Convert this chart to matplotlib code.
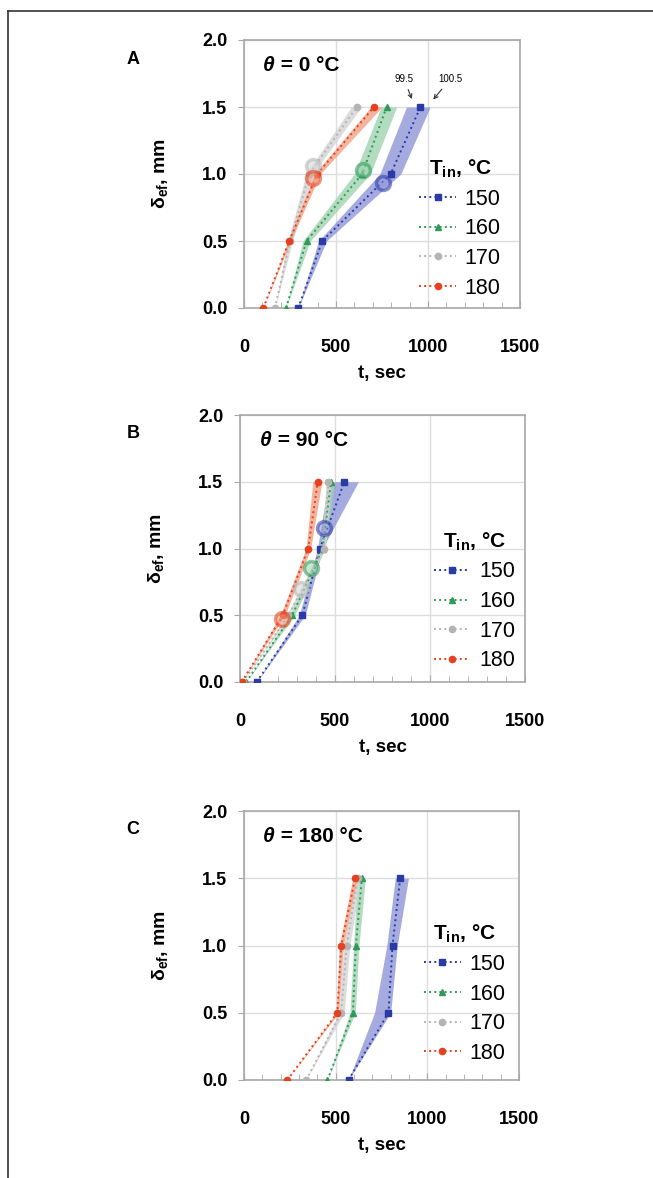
import matplotlib.pyplot as plt
from matplotlib.lines import Line2D
from matplotlib.ticker import MultipleLocator

plt.rcParams['font.family'] = ['Liberation Sans', 'DejaVu Sans']
plt.rcParams['mathtext.fontset'] = 'custom'
plt.rcParams['mathtext.rm'] = 'Liberation Sans'
plt.rcParams['mathtext.bf'] = 'Liberation Sans:bold'
plt.rcParams['mathtext.it'] = 'Liberation Sans:italic'

# depth levels (mm)
depth = [0.0, 0.5, 1.0, 1.5]
t_in = ['150', '160', '170', '180']

# panel A, theta = 0
a_t = {'150': [295, 425, 797, 959], '160': [228, 340, 642, 775],
       '170': [168, 250, 355, 612], '180': [105, 246, 398, 706]}
a_lo = {'150': [295, 405, 738, 883], '160': [228, 320, 600, 745],
        '170': [168, 238, 338, 583], '180': [105, 238, 383, 690]}
a_hi = {'150': [295, 448, 852, 1012], '160': [228, 360, 686, 830],
        '170': [168, 264, 374, 638], '180': [105, 254, 414, 750]}
a_circ_t = {'150': 756, '160': 648, '170': 373, '180': 373}
a_circ_d = {'150': 0.93, '160': 1.03, '170': 1.06, '180': 0.97}

# panel B, theta = 90
b_t = {'150': [88, 328, 421, 549], '160': [32, 275, 435, 479],
       '170': [15, 255, 440, 465], '180': [9, 225, 359, 409]}
b_lo = {'150': [88, 312, 408, 465], '160': [32, 262, 422, 462],
        '170': [15, 246, 430, 453], '180': [9, 213, 348, 383]}
b_hi = {'150': [88, 343, 434, 623], '160': [32, 288, 448, 497],
        '170': [15, 264, 450, 480], '180': [9, 237, 372, 431]}
b_circ_t = {'150': 444, '160': 374, '170': 319, '180': 223}
b_circ_d = {'150': 1.155, '160': 0.855, '170': 0.70, '180': 0.47}

# panel C, theta = 180
c_t = {'150': [570, 788, 810, 852], '160': [455, 594, 610, 643],
       '170': [339, 530, 560, 620], '180': [236, 509, 530, 606]}
c_lo = {'150': [570, 712, 779, 825], '160': [455, 578, 598, 618],
        '170': [339, 518, 543, 608], '180': [236, 503, 520, 593]}
c_hi = {'150': [570, 800, 836, 897], '160': [455, 607, 627, 662],
        '170': [339, 547, 577, 637], '180': [236, 517, 542, 617]}

colors = {'150': '#2b3ba5', '160': '#2f9a58', '170': '#b4b4b4', '180': '#e6401e'}
bands = {'150': '#8f96d8', '160': '#9fd3b0', '170': '#d4d4d4', '180': '#f2a084'}
markers = {'150': 's', '160': '^', '170': 'o', '180': 'o'}

fig = plt.figure(figsize=(6.53, 11.78), dpi=100)
W, H = 653, 1178

# frame (left and top lines)
fig.add_artist(Line2D([8 / W, 8 / W], [0, 1 - 11 / H], color='#333333', lw=1.2))
fig.add_artist(Line2D([8 / W, 1], [1 - 11 / H, 1 - 11 / H], color='#333333', lw=1.2))

panels = [
    ('A', '0', a_t, a_lo, a_hi, a_circ_t, a_circ_d, (244, 40, 520, 308), (0.93, 0.035)),
    ('B', '90', b_t, b_lo, b_hi, b_circ_t, b_circ_d, (240, 415, 525, 682), (0.965, 0.04)),
    ('C', '180', c_t, c_lo, c_hi, None, None, (244, 811, 519, 1080), (0.95, 0.06)),
]

for letter, theta, tt, lo, hi, ct, cd, box, legpos in panels:
    x0, y0, x1, y1 = box
    ax = fig.add_axes([x0 / W, 1 - y1 / H, (x1 - x0) / W, (y1 - y0) / H])
    handles = []
    for k in t_in:
        ax.fill_betweenx(depth, lo[k], hi[k], color=bands[k], alpha=0.8, lw=0, zorder=2)
        h, = ax.plot(tt[k], depth, ls=':', lw=1.4, color=colors[k], marker=markers[k],
                     ms=4.5, mec=colors[k], zorder=3)
        handles.append(h)
        if ct is not None:
            ax.plot(ct[k], cd[k], 'o', ms=10, mfc=bands[k], mec=colors[k], mew=2.5,
                    alpha=0.55, zorder=4)
    ax.set_xlim(0, 1500)
    ax.set_ylim(0, 2.0)
    ax.xaxis.set_major_locator(MultipleLocator(500))
    ax.xaxis.set_minor_locator(MultipleLocator(100))
    ax.set_yticks([0, 0.5, 1.0, 1.5, 2.0])
    ax.set_yticklabels(['0.0', '0.5', '1.0', '1.5', '2.0'])
    ax.grid(True, color='#dddddd', lw=1.0, zorder=0)
    ax.set_axisbelow(True)
    for s in ax.spines.values():
        s.set_color('#a8a8a8')
        s.set_linewidth(1.2)
    ax.tick_params(axis='x', which='major', direction='in', length=5, color='#a8a8a8',
                   pad=22, labelsize=13)
    ax.tick_params(axis='x', which='minor', direction='in', length=4, color='#a8a8a8')
    ax.tick_params(axis='y', direction='out', length=4, color='#a8a8a8', pad=8, labelsize=13)
    for lab in ax.get_xticklabels() + ax.get_yticklabels():
        lab.set_fontweight('bold')
    ax.set_xlabel('t, sec', fontsize=13.5, fontweight='bold')
    ax.xaxis.set_label_coords(0.5, -57 / (y1 - y0))
    ax.set_ylabel(r'$\mathbf{\delta_{ef}}$, mm', fontsize=14, fontweight='bold')
    ax.yaxis.set_label_coords(-74 / (x1 - x0), 0.5)

    fig.text(133 / W, 1 - (y0 + 19) / H, letter, fontsize=13, fontweight='bold',
             ha='center', va='center')

    t1 = ax.text(0.07, 0.905, 'θ', transform=ax.transAxes, fontsize=15,
                 fontweight='bold', style='italic', va='center', ha='left')
    ax.annotate(' = %s °C' % theta, xy=(1, 0.5), xycoords=t1, va='center', ha='left',
                fontsize=15, fontweight='bold')

    ax.legend(handles, t_in, loc='lower right', bbox_to_anchor=legpos,
              frameon=False, fontsize=15.5, title=r'T$_{\mathbf{in}}$, °C',
              title_fontproperties={'size': 15, 'weight': 'bold'},
              handlelength=1.7, handletextpad=0.4, labelspacing=0.4,
              borderpad=0, borderaxespad=0)

    if letter == 'A':
        ax.annotate('99.5', xy=(918, 1.54), xytext=(870, 1.67), fontsize=7,
                    ha='center', va='bottom',
                    arrowprops=dict(arrowstyle='->', color='#333333', lw=0.8))
        ax.annotate('100.5', xy=(1019, 1.54), xytext=(1120, 1.67), fontsize=7,
                    ha='center', va='bottom',
                    arrowprops=dict(arrowstyle='->', color='#333333', lw=0.8))

fig.savefig('out.png', dpi=100)
